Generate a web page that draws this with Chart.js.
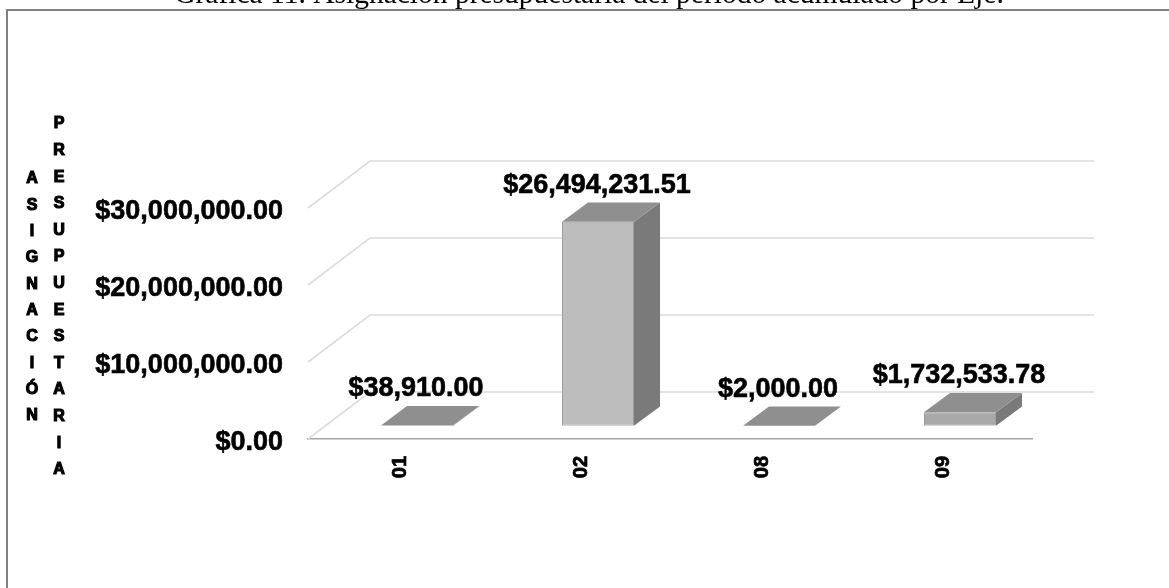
<!DOCTYPE html>
<html>
<head>
<meta charset="utf-8">
<script src="https://cdn.jsdelivr.net/npm/chart.js@4/dist/chart.umd.js"></script>
<style>
html, body { margin: 0; background: #fff; overflow: hidden; }
#frame { position: absolute; left: 6px; top: 9px; width: 2000px; height: 2000px; border: 2px solid #808080; }
canvas { position: absolute; left: 0; top: 0; }
</style>
</head>
<body>
<div id="frame"></div>
<canvas id="chart" width="1169" height="588"></canvas>
<script>
var categories = ["01", "02", "08", "09"];
var assigned = [38910.00, 26494231.51, 2000.00, 1732533.78];
var axisMax = 30000000;
var axisStep = 10000000;
var titleText = "Gráfica 11. Asignación presupuestaria del período acumulado por Eje.";
var axisWordOne = "ASIGNACIÓN";
var axisWordTwo = "PRESUPUESTARIA";

var boldFont = "'Liberation Sans', Arial, sans-serif";

var money = function(value) {
    return "$" + value.toLocaleString("en-US", { minimumFractionDigits: 2, maximumFractionDigits: 2 });
};

// fake 3D: back wall offset, and the bars sit part way into the floor
var wall = { dx: 62, dy: -47 };
var barShift = { dx: 18.5, dy: -13.3 };
var barDepth = { dx: 26, dy: -19.3 };

var face = function(ctx, points, color) {
    ctx.beginPath();
    ctx.moveTo(points[0][0], points[0][1]);
    for (var i = 1; i < points.length; i++) {
        ctx.lineTo(points[i][0], points[i][1]);
    }
    ctx.closePath();
    ctx.fillStyle = color;
    ctx.fill();
};

var stackedWord = function(ctx, word, x, top, step) {
    ctx.font = "bold 16px " + boldFont;
    ctx.textAlign = "center";
    ctx.textBaseline = "middle";
    ctx.fillStyle = "#000";
    ctx.strokeStyle = "#000";
    ctx.lineWidth = 1.2;
    for (var i = 0; i < word.length; i++) {
        ctx.fillText(word[i], x, top + i * step);
        ctx.strokeText(word[i], x, top + i * step);
    }
};

var fakeDepth = {
    id: "fakeDepth",
    beforeDatasetsDraw: function(chart) {
        var ctx = chart.ctx;
        var area = chart.chartArea;
        var y = chart.scales.y;
        ctx.save();
        ctx.strokeStyle = "#dcdcdc";
        ctx.lineWidth = 1.6;
        y.ticks.forEach(function(tick) {
            var py = y.getPixelForValue(tick.value);
            ctx.beginPath();
            ctx.moveTo(area.left, py);
            ctx.lineTo(area.left + wall.dx, py + wall.dy);
            ctx.lineTo(area.right + wall.dx, py + wall.dy);
            ctx.stroke();
        });
        ctx.restore();
    },
    beforeDatasetDraw: function(chart) {
        var ctx = chart.ctx;
        ctx.save();
        ctx.translate(barShift.dx, barShift.dy);
        chart.getDatasetMeta(0).data.forEach(function(bar) {
            var l = bar.x - bar.width / 2;
            var r = bar.x + bar.width / 2;
            var d = barDepth;
            face(ctx, [[r, bar.y], [r + d.dx, bar.y + d.dy], [r + d.dx, bar.base + d.dy], [r, bar.base]], "#7a7a7a");
            face(ctx, [[l, bar.y], [l + d.dx, bar.y + d.dy], [r + d.dx, bar.y + d.dy], [r, bar.y]], "#8f8f8f");
        });
    },
    afterDatasetDraw: function(chart) {
        chart.ctx.restore();
    },
    afterDatasetsDraw: function(chart) {
        var ctx = chart.ctx;
        ctx.save();
        ctx.font = "bold 27px " + boldFont;
        ctx.textAlign = "center";
        ctx.textBaseline = "middle";
        ctx.fillStyle = "#000";
        ctx.strokeStyle = "#000";
        ctx.lineWidth = 0.6;
        chart.getDatasetMeta(0).data.forEach(function(bar, i) {
            var text = money(assigned[i]);
            var lx = bar.x + barShift.dx - 1;
            var ly = bar.y + barShift.dy - 36.5;
            ctx.fillText(text, lx, ly);
            ctx.strokeText(text, lx, ly);
        });
        stackedWord(ctx, axisWordOne, 32, 179, 26.3);
        stackedWord(ctx, axisWordTwo, 59, 124, 26.6);
        ctx.restore();
    }
};

new Chart(document.getElementById("chart"), {
    type: "bar",
    data: {
        labels: categories,
        datasets: [{
            data: assigned,
            backgroundColor: ["#bdbdbd", "#bdbdbd", "#bdbdbd", "#a9a9a9"],
            borderColor: "#9e9e9e",
            borderWidth: 1,
            borderSkipped: false,
            barPercentage: 0.398,
            categoryPercentage: 1
        }]
    },
    options: {
        responsive: false,
        animation: false,
        layout: { padding: { left: 9, right: 0, top: 0, bottom: 0 } },
        plugins: {
            legend: { display: false },
            tooltip: { enabled: false },
            title: {
                display: true,
                text: titleText,
                color: "#000",
                font: { family: "'Liberation Serif', serif", size: 29.5, weight: "normal", lineHeight: 1.2 },
                padding: { top: -22.7, bottom: 195.3 }
            }
        },
        scales: {
            x: {
                grid: { display: false, drawTicks: false },
                border: { display: true, color: "#a6a6a6", width: 1.5 },
                ticks: {
                    color: "#000",
                    padding: 17,
                    labelOffset: 1.5,
                    minRotation: 90,
                    maxRotation: 90,
                    textStrokeColor: "#000",
                    textStrokeWidth: 0.7,
                    font: { family: boldFont, size: 20, weight: "bold" }
                },
                afterFit: function(scale) { scale.height = 149; }
            },
            y: {
                min: 0,
                max: axisMax,
                grid: { display: false, drawTicks: false },
                border: { display: false },
                ticks: {
                    stepSize: axisStep,
                    color: "#000",
                    padding: 25,
                    labelOffset: 4,
                    textStrokeColor: "#000",
                    textStrokeWidth: 0.6,
                    font: { family: boldFont, size: 27, weight: "bold" },
                    callback: function(value) { return money(value); }
                },
                afterFit: function(scale) { scale.width = 299; }
            },
            // empty axis that only holds the blank strip right of the plot
            side: {
                position: "right",
                grid: { display: false, drawTicks: false },
                border: { display: false },
                ticks: { display: false },
                afterFit: function(scale) { scale.width = 137; }
            }
        }
    },
    plugins: [fakeDepth]
});
</script>
</body>
</html>
